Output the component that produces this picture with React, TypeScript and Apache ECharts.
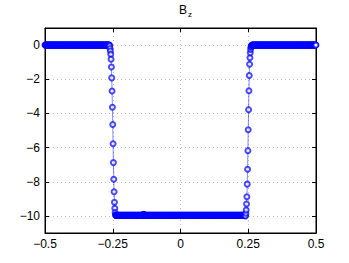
import React, { useEffect, useRef } from "react";
import * as echarts from "echarts";

// sampling grid of the curve
const X_START = -0.5;
const X_STEP = 0.00125;

// segments of B_z
const leftFlatValue = 0;
const leftFlatCount = 190;
const leftEdge = [0, -0.06, -0.2, -0.35, -0.54, -0.83, -1.28, -1.92, -2.69, -3.64, -4.65, -5.78, -6.88, -7.85, -8.59, -9.2, -9.55, -9.8, -9.93, -9.97];
const bottomValue = -9.97;
const bottomCount = 381;
const bottomBumpOffset = 79;
const bottomBump = [-9.95, -9.92, -9.9, -9.92, -9.95];
const rightEdge = [-9.97, -10, -9.84, -9.65, -9.3, -8.88, -8.14, -7.27, -6.18, -4.96, -3.78, -2.67, -1.78, -1.12, -0.74, -0.45, -0.25, -0.12, -0.06, -0.02, 0];
const rightFlatValue = 0;
const rightFlatCount = 189;

const xTicks = [-0.5, -0.25, 0, 0.25, 0.5];
const yTicks = [-10, -8, -6, -4, -2, 0];

const bottom: number[] = new Array(bottomCount).fill(bottomValue);
bottomBump.forEach((v, k) => { bottom[bottomBumpOffset + k] = v; });
const yValues: number[] = [
  ...new Array(leftFlatCount).fill(leftFlatValue),
  ...leftEdge,
  ...bottom,
  ...rightEdge,
  ...new Array(rightFlatCount).fill(rightFlatValue),
];
const seriesData = yValues.map((y, i) => [+(X_START + i * X_STEP).toFixed(5), y]);

const fmt = (v: number) => String(v).replace("-", "\u2212");
const FONT = "Liberation Sans, Arial, Helvetica, sans-serif";

export default function App() {
  const ref = useRef<HTMLDivElement>(null);
  useEffect(() => {
    if (!ref.current) return;
    const chart = echarts.init(ref.current, undefined, { renderer: "svg" });
    const gridLine = { show: true, lineStyle: { color: "#bdbdbd", type: [1, 3] as any, width: 1 } };
    const axisLine = { show: true, onZero: false, lineStyle: { color: "#000", width: 1 } };
    const tick = { show: true, inside: true, length: 4, lineStyle: { color: "#000" } };
    chart.setOption({
      animation: false,
      backgroundColor: "#ffffff",
      title: {
        text: "{b|B}{s|z}",
        left: 174,
        top: -2,
        textStyle: {
          fontWeight: "normal",
          rich: {
            b: { fontSize: 12, fontFamily: FONT, color: "#000", fontWeight: "normal", lineHeight: 14 },
            s: { fontSize: 8, fontFamily: FONT, color: "#000", fontWeight: "normal", padding: [9, 0, 0, 1], lineHeight: 14 },
          },
        },
      },
      grid: { left: 45, right: 33, top: 28, bottom: 30, show: true, borderColor: "#000", borderWidth: 1 },
      xAxis: [
        {
          type: "value", min: -0.5, max: 0.5, interval: 0.25,
          axisLine,
          axisTick: tick,
          axisLabel: { show: true, formatter: fmt, color: "#000", fontSize: 12, fontFamily: FONT, margin: 5, customValues: xTicks },
          splitLine: gridLine,
        },
        {
          type: "value", position: "top", min: -0.5, max: 0.5, interval: 0.25,
          axisLine,
          axisTick: tick,
          axisLabel: { show: false },
          splitLine: { show: false },
        },
      ],
      yAxis: [
        {
          type: "value", min: -11, max: 1,
          axisLine,
          axisTick: { ...tick, customValues: yTicks },
          axisLabel: { show: true, formatter: fmt, color: "#000", fontSize: 12, fontFamily: FONT, margin: 5, customValues: yTicks },
          splitLine: gridLine,
        },
        {
          type: "value", position: "right", min: -11, max: 1,
          axisLine,
          axisTick: { ...tick, customValues: yTicks },
          axisLabel: { show: false },
          splitLine: { show: false },
        },
      ],
      series: [
        {
          type: "line",
          data: seriesData,
          symbol: "emptyCircle",
          symbolSize: 5,
          showAllSymbol: true,
          lineStyle: { color: "#0000ff", width: 0.8, opacity: 0.6 },
          itemStyle: { color: "#0000ff", borderColor: "#0000ff", borderWidth: 0.7, opacity: 0.7 },
          emphasis: { disabled: true },
        },
      ],
    });
    return () => chart.dispose();
  }, []);
  return <div ref={ref} style={{ width: 349, height: 263, position: "absolute", left: 0, top: 0 }} />;
}
